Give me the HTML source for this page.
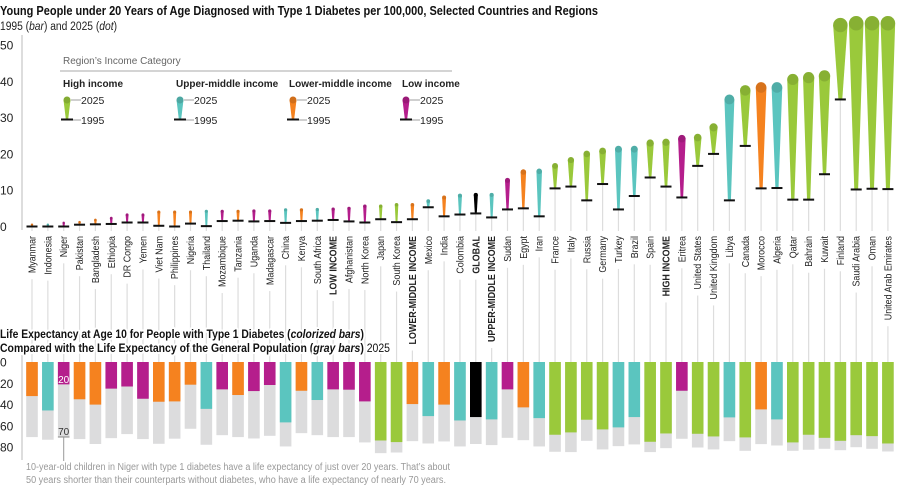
<!DOCTYPE html>
<html><head><meta charset="utf-8"><style>
html,body{margin:0;padding:0;background:#fff;}
svg{display:block;font-family:"Liberation Sans",sans-serif;}
.h{paint-order:stroke;stroke:#fff;stroke-width:4px;stroke-linejoin:round;}
</style></head><body>
<svg id="s" width="900" height="494" viewBox="0 0 900 494" xmlns="http://www.w3.org/2000/svg">
<g id="g"></g>
<text x="0" y="15" font-size="12.5" font-weight="bold" fill="#111" textLength="598" lengthAdjust="spacingAndGlyphs">Young People under 20 Years of Age Diagnosed with Type 1 Diabetes per 100,000, Selected Countries and Regions</text>
<text x="0" y="30" font-size="11.5" fill="#222" textLength="117" lengthAdjust="spacingAndGlyphs">1995 (<tspan font-style="italic">bar</tspan>) and 2025 (<tspan font-style="italic">dot</tspan>)</text>
<text class="h" x="0" y="338" font-size="11.5" font-weight="bold" fill="#111" textLength="364" lengthAdjust="spacingAndGlyphs">Life Expectancy at Age 10 for People with Type 1 Diabetes (<tspan font-style="italic">colorized bars</tspan>)</text>
<text class="h" x="0" y="352" font-size="11.5" font-weight="bold" fill="#111" textLength="390" lengthAdjust="spacingAndGlyphs">Compared with the Life Expectancy of the General Population (<tspan font-style="italic">gray bars</tspan>) <tspan font-weight="normal">2025</tspan></text>
<text x="26" y="470" font-size="10" fill="#999" textLength="424" lengthAdjust="spacingAndGlyphs">10-year-old children in Niger with type 1 diabetes have a life expectancy of just over 20 years. That’s about</text>
<text x="26" y="483" font-size="10" fill="#999" textLength="420" lengthAdjust="spacingAndGlyphs">50 years shorter than their counterparts without diabetes, who have a life expectancy of nearly 70 years.</text>
</svg>
<script>
var C={g:"#9ac93b",t:"#5bc5bf",o:"#f5821f",p:"#b51e8c",k:"#000"};
var D=[
["Myanmar","o",0.5,0,32,70.5],["Indonesia","t",0.5,0,45.5,73],["Niger","p",1,0,21,70.5],["Pakistan","o",1.2,0.5,35,72.4],
["Bangladesh","o",1.8,0.6,40,77],["Ethiopia","p",2.3,0.7,25,71.5],["DR Congo","p",3.2,1.1,23,67.7],["Yemen","p",3.2,1.1,34.5,72.4],
["Viet Nam","o",4,0.2,37.3,76.8],["Philippines","o",4,0,37,72],["Nigeria","o",4,0.8,21.3,62.7],["Thailand","t",4.2,0.1,44,77.7],
["Mozambique","p",4.2,1.5,25.7,68.7],["Tanzania","o",4.2,1.6,31,70.5],["Uganda","p",4.3,1.4,27.3,71.8],["Madagascar","p",4.3,1.5,21.6,69.3],
["China","t",4.6,1,56.7,79.3],["Kenya","o",4.6,1.5,27,66.8],["South Africa","t",4.7,1.6,35.7,68.7],["LOW INCOME","p",4.8,1.8,25.7,70.5,1],
["Afghanistan","p",5,1.4,26,70.5],["North Korea","p",5.6,1.1,37,75.5],["Japan","g",5.6,2,73.7,85.6],["South Korea","g",6,1.2,75.2,85],
["LOWER-MIDDLE INCOME","o",6,2,39.5,74.3,1],["Mexico","t",7,5.3,50.8,76.5],["India","o",8,2.8,40,74.6],["Colombia","t",8.5,3.3,54.9,79.3],
["GLOBAL","k",8.7,3.6,51.7,77,1],["UPPER-MIDDLE INCOME","t",8.7,2.5,53.9,78,1],["Sudan","p",12.7,4.7,25.7,71.2],["Egypt","o",15,5,42.6,73.4],
["Iran","t",15.2,2.8,52.7,79.3],["France","g",16.7,10.5,68.3,84.3],["Italy","g",18.3,11,66.1,84.6],["Russia","g",20,7.2,54.2,74],
["Germany","g",20.8,11.7,63.3,82.1],["Turkey","t",21.3,4.7,61.4,79],["Brazil","t",21.3,8.4,51.7,77.4],["Spain","g",23,13.5,74.9,84.6],
["HIGH INCOME","g",23.2,11,67.1,80.9,1],["Eritrea","p",24.2,8,27,72.1],["United States","g",24.5,16.7,67.4,80.3],["United Kingdom","g",27.3,20,69.9,82.1],
["Libya","t",35,7.2,52,74.3],["Canada","g",37.5,22.2,70.8,83.4],["Morocco","o",38.3,10.5,44.5,77.1],["Algeria","t",38.3,10.6,53.9,78.4],
["Qatar","g",40.5,7.4,75.5,83.4],["Bahrain","g",41,7.4,68.3,82.4],["Kuwait","g",41.5,14.4,71.2,81.5],["Finland","g",55.5,35,74,82.8],
["Saudi Arabia","g",56,10.2,68.7,80],["Oman","g",56,10.4,69.6,81.5],["United Arab Emirates","g",56,10.3,76.5,84]];
var NS="http://www.w3.org/2000/svg",G=document.getElementById("g");
function el(t,a,p){var e=document.createElementNS(NS,t);for(var k in a)e.setAttribute(k,a[k]);(p||G).appendChild(e);return e;}
function yT(v){return 226.5-v*3.63;}
function yB(v){return 362+v*1.065;}
el("line",{x1:22,y1:35,x2:22,y2:230,stroke:"#bbb","stroke-width":1});
el("line",{x1:22,y1:355,x2:22,y2:460,stroke:"#bbb","stroke-width":1});
[0,10,20,30,40,50].forEach(function(v){var t=el("text",{x:0,y:yT(v)+4.5,"font-size":12,fill:"#222"});t.textContent=v;});
[0,20,40,60,80].forEach(function(v){var t=el("text",{x:0,y:yB(v)+4.5,"font-size":12,fill:"#222"});t.textContent=v;});
var lt=el("text",{x:63,y:64,"font-size":10,fill:"#666"});lt.textContent="Region’s Income Category";
el("line",{x1:60,y1:71,x2:452,y2:71,stroke:"#aaa","stroke-width":1});
[["High income","g",63],["Upper-middle income","t",176],["Lower-middle income","o",289],["Low income","p",402]].forEach(function(L){
 var t=el("text",{x:L[2],y:87,"font-size":10,"font-weight":"bold",fill:"#222"});t.textContent=L[0];
 var cx=L[2]+4;
 el("path",{d:"M"+(cx-3.5)+" 100 L"+(cx+3.5)+" 100 L"+(cx+1.2)+" 119 L"+(cx-1.2)+" 119 Z",fill:C[L[1]]});
 el("circle",{cx:cx,cy:100,r:3.5,fill:C[L[1]]});el("circle",{cx:cx,cy:100,r:3.5,fill:"#000",opacity:0.15});
 el("rect",{x:cx-6,y:118.5,width:12,height:2,fill:"#111"});
 el("line",{x1:cx+4,y1:100,x2:L[2]+18,y2:100,stroke:"#888","stroke-width":0.8});
 el("line",{x1:cx+6,y1:120,x2:L[2]+18,y2:120,stroke:"#888","stroke-width":0.8});
 var a=el("text",{x:L[2]+18,y:104,"font-size":10.5,fill:"#222"});a.textContent="2025";
 var b=el("text",{x:L[2]+18,y:124,"font-size":10.5,fill:"#222"});b.textContent="1995";
});
D.forEach(function(d,i){
 var x=32+i*15.85,col=C[d[1]];
 var tx=el("text",{transform:"translate("+(x+3.5)+",236) rotate(-90) scale(0.85,1)","text-anchor":"end","font-size":10.5,fill:"#222","font-weight":d[6]?"bold":"normal"});
 tx.textContent=d[0];
 var len=tx.getComputedTextLength()*0.85;
 el("line",{x1:x,y1:yT(d[3]),x2:x,y2:231,stroke:"#ddd","stroke-width":1.2});
 el("line",{x1:x,y1:239+len+3,x2:x,y2:362,stroke:"#ddd","stroke-width":1.2});
 var yt=yT(d[2]),yb=yT(d[3]),r=1.1+d[2]*0.11,hb=0.8+d[2]*0.02;
 el("path",{d:"M"+(x-r)+" "+yt+" L"+(x+r)+" "+yt+" L"+(x+hb)+" "+yb+" L"+(x-hb)+" "+yb+" Z",fill:col});
 el("circle",{cx:x,cy:yt,r:r,fill:col});el("circle",{cx:x,cy:yt,r:r,fill:"#000",opacity:0.12});
 el("rect",{x:x-5.5,y:yb-1,width:11,height:2,fill:"#111"});
 el("rect",{x:x-5.8,y:362,width:11.6,height:yB(d[5])-362,fill:"#dcdcdd"});
 el("rect",{x:x-5.8,y:362,width:11.6,height:yB(d[4])-362,fill:col});
});
var nx=32+2*15.85;
var a1=el("text",{x:nx,y:383,"font-size":10,fill:"#fff","text-anchor":"middle"});a1.textContent="20";
var a2=el("text",{x:nx,y:435,"font-size":10,fill:"#333","text-anchor":"middle"});a2.textContent="70";
el("line",{x1:nx-5.8,y1:437,x2:nx+5.8,y2:437,stroke:"#888","stroke-width":1});
el("line",{x1:nx,y1:437,x2:nx,y2:461,stroke:"#999","stroke-width":1});
</script>
</body></html>
